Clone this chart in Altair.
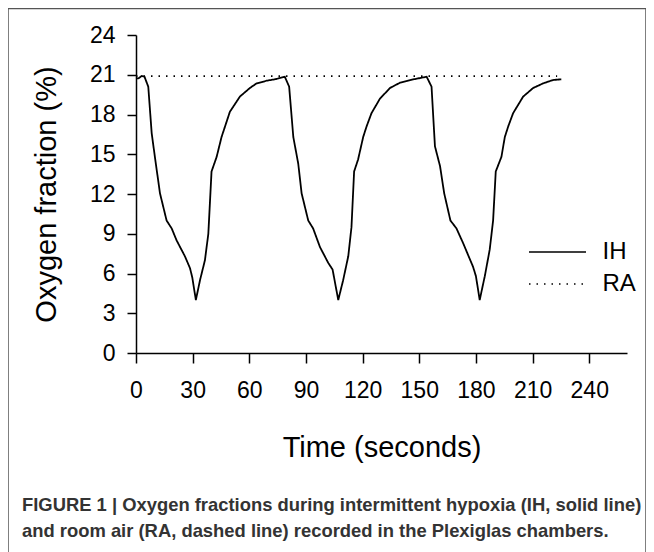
import altair as alt
import pandas as pd

# IH (intermittent hypoxia) trace: time (s) and oxygen fraction (%)
ih_time = [0, 1.5, 3, 4.5, 6.5, 8.3, 10, 12.7, 16.2, 18.9, 21.5, 25.9, 28.6, 29.8, 31.7,
           33.9, 36.5, 38.3, 40, 42.7, 45.3, 49.7, 55, 60.3, 63.9, 69.2, 74.4, 78.8,
           81.1, 83.3, 85.9, 87.7, 91.2, 93.8, 97.4, 101.8, 104.1, 107.1,
           109.7, 112.4, 114.1, 115.5, 117.6, 120.3, 122.1, 124.7, 129.2, 134.5, 139.8, 146.8, 153.9,
           156.5, 158.3, 161, 163.2, 166.5, 169.7, 173.2, 178.5, 180, 182,
           184.7, 187.3, 189.1, 190.5, 193.5, 195.3, 197.1, 199.7, 205, 210.3, 215.6, 220.8, 225.2]
ih_value = [20.7, 20.75, 20.9, 20.85, 20.1, 16.6, 14.8, 12.05, 10.0, 9.4, 8.5, 7.3, 6.4, 5.7, 4.0,
            5.5, 7.0, 9.0, 13.7, 14.8, 16.3, 18.2, 19.35, 20.0, 20.35, 20.55, 20.68, 20.85,
            20.1, 16.3, 14.3, 12.05, 10.0, 9.4, 8.0, 6.8, 6.3, 4.0,
            5.5, 7.3, 9.5, 13.7, 14.6, 16.3, 17.1, 18.1, 19.2, 20.0, 20.4, 20.65, 20.85,
            20.1, 15.6, 14.1, 12.05, 10.0, 9.4, 8.3, 6.5, 5.8, 4.0,
            5.8, 7.8, 10.0, 13.7, 14.8, 16.3, 17.1, 18.1, 19.35, 20.0, 20.35, 20.6, 20.66]

# RA (room air) reference
ra_time = [0, 223]
ra_value = [20.9, 20.9]

series = ["IH", "RA"]
x_ticks = [0, 30, 60, 90, 120, 150, 180, 210, 240]
y_ticks = [0, 3, 6, 9, 12, 15, 18, 21, 24]

caption_lines = [
    "FIGURE 1 | Oxygen fractions during intermittent hypoxia (IH, solid line)",
    "and room air (RA, dashed line) recorded in the Plexiglas chambers.",
]

df = pd.concat([
    pd.DataFrame({"t": ih_time, "v": ih_value, "s": "IH", "o": range(len(ih_time))}),
    pd.DataFrame({"t": ra_time, "v": ra_value, "s": "RA", "o": range(len(ra_time))}),
])
one = pd.DataFrame({"k": [0]})

FONT = "Liberation Sans"

lines = alt.Chart(df).mark_line(color="black", strokeWidth=1.8).encode(
    x=alt.X("t:Q",
            scale=alt.Scale(domain=[0, 260], nice=False),
            axis=alt.Axis(values=x_ticks, title="Time (seconds)", grid=False,
                          tickSize=10, labelPadding=16, titlePadding=31,
                          labelFlush=False)),
    y=alt.Y("v:Q",
            scale=alt.Scale(domain=[0, 24], nice=False),
            axis=alt.Axis(values=y_ticks, title="Oxygen fraction (%)", grid=False,
                          tickSize=9, labelPadding=12, titlePadding=28,
                          labelFlush=False)),
    strokeDash=alt.StrokeDash("s:N",
                              scale=alt.Scale(domain=series, range=[[1, 0], [1.5, 6]]),
                              legend=alt.Legend(title=None, orient="none",
                                                legendX=409.5, legendY=205,
                                                symbolType="M-2.85,0H2.85", symbolSize=400,
                                                symbolStrokeWidth=1.6,
                                                symbolStrokeColor="black",
                                                symbolFillColor="transparent",
                                                labelFontSize=24, labelFont=FONT,
                                                labelColor="black",
                                                labelOffset=33, rowPadding=8,
                                                padding=0)),
    order="o:Q",
    detail="s:N",
)

frame = alt.Chart(one).mark_rect(fill=None, stroke="#555555", strokeWidth=1.5, clip=False).encode(
    x=alt.value(-128), x2=alt.value(510), y=alt.value(-26.5), y2=alt.value(530)
)

cap1 = alt.Chart(one).mark_text(align="left", baseline="middle", fontSize=18.4,
                                 fontWeight="bold", font=FONT, color="#333333").encode(
    x=alt.value(-114), y=alt.value(470), text=alt.value(caption_lines[0])
)
cap2 = alt.Chart(one).mark_text(align="left", baseline="middle", fontSize=18.4,
                                 fontWeight="bold", font=FONT, color="#333333").encode(
    x=alt.value(-114), y=alt.value(496), text=alt.value(caption_lines[1])
)

chart = alt.layer(frame, lines, cap1, cap2).properties(
    width=491, height=318,
    autosize=alt.AutoSizeParams(type="none"),
    padding={"left": 128, "top": 27, "right": 19, "bottom": 199},
).configure_view(stroke=None).configure_axis(
    labelFont=FONT, titleFont=FONT, labelFontSize=23, titleFontSize=29,
    titleFontWeight="normal", labelColor="black", titleColor="black",
    domainColor="black", tickColor="black", domainWidth=1.5, tickWidth=1.5,
)

chart.save("out.html", embed_options={"renderer": "svg", "actions": False})
